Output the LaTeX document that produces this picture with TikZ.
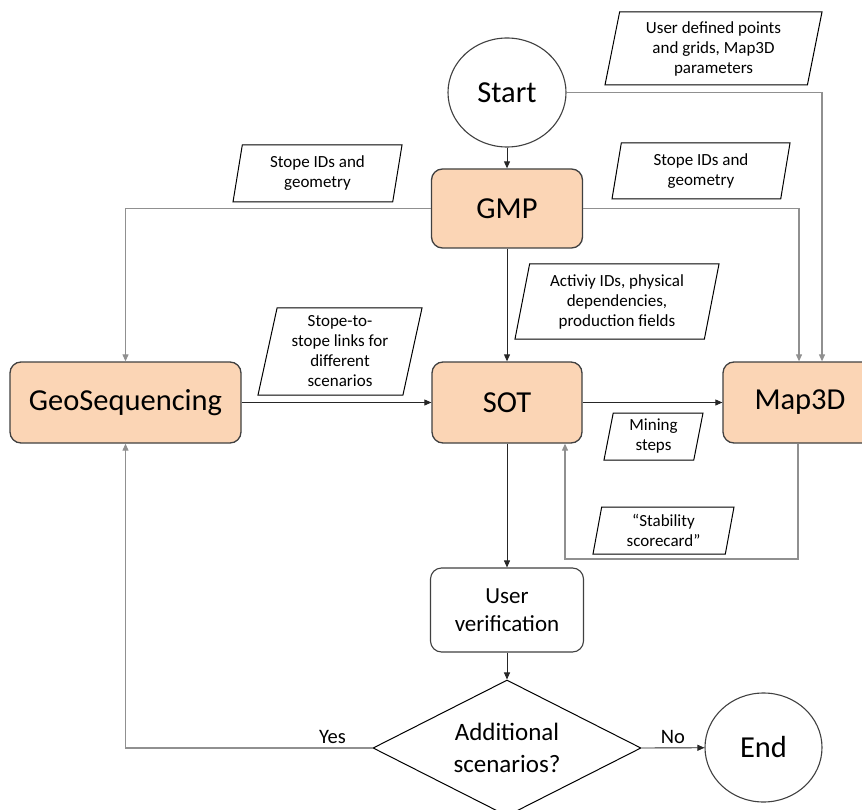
\documentclass[tikz,border=0pt]{standalone}
\usepackage{fontspec}
\setmainfont{Carlito}
\usetikzlibrary{arrows.meta,shapes.geometric}
\usepackage{xcolor}
\definecolor{peach}{HTML}{FBD5B5}
\definecolor{boxline}{HTML}{404040}
\definecolor{flowgrey}{HTML}{909090}

\begin{document}
\begin{tikzpicture}[x=1pt,y=-1pt]
	 \tikzstyle{process}=[rectangle,rounded corners=11pt,draw=boxline,line width=1.3pt,fill=peach,inner sep=0pt,font=\fontsize{30.5}{36}\selectfont]
	 \tikzstyle{terminal}=[ellipse,draw=boxline,line width=1.1pt,inner sep=0pt,font=\fontsize{30.5}{36}\selectfont]
	 \tikzstyle{data}=[trapezium,trapezium left angle=75,trapezium right angle=105,trapezium stretches body,draw=black,line width=1pt,inner sep=0pt,align=center,font=\fontsize{17}{20}\selectfont]
	 \tikzstyle{edge}=[draw,line width=0.9pt,black!85,-{Triangle[length=7pt,width=6pt]}]
	 \tikzstyle{grey edge}=[draw,line width=1.1pt,flowgrey,-{Triangle[length=7pt,width=6pt]}]
	 \tikzstyle{answer}=[black,font=\fontsize{20.5}{24}\selectfont]

	\useasboundingbox (0,0) rectangle (862,810);
	\clip (0,0) rectangle (862,810);

	\node[terminal,minimum width=118pt,minimum height=109pt] (start) at (507,92.5) {Start};
	\node[process,minimum width=151pt,minimum height=79pt] (gmp) at (507,208.5) {GMP};
	\node[process,minimum width=231pt,minimum height=81pt] (geo) at (125.5,402.5) {GeoSequencing};
	\node[process,minimum width=150pt,minimum height=81pt] (sot) at (507,402.5) {SOT};
	\node[process,minimum width=154pt,minimum height=81pt] (map) at (800,402.5) {Map3D};
	\node[process,fill=white,line width=1.1pt,minimum width=153pt,minimum height=84pt,align=center,font=\fontsize{23}{28}\selectfont] (ver) at (507,610) {User\\verification};
	\node[diamond,draw=black,line width=1pt,minimum width=268pt,minimum height=136pt,inner sep=0pt,aspect=2,align=center,font=\fontsize{25}{32}\selectfont] (dec) at (507,748) {Additional\\scenarios?};
	\node[terminal,minimum width=117pt,minimum height=109pt] (end) at (763.5,747.5) {End};

	\node[data,minimum width=217pt,minimum height=73pt] (in1) at (713.5,48.5) {User defined points\\and grids, Map3D\\parameters};
	\node[data,minimum width=169pt,minimum height=57pt] (in2) at (317.5,173.5) {Stope IDs and\\geometry};
	\node[data,minimum width=178pt,minimum height=56pt] (in3) at (701,171) {Stope IDs and\\geometry};
	\node[data,minimum width=204pt,minimum height=75pt] (in4) at (617,301.5) {Activiy IDs, physical\\dependencies,\\production fields};
	\node[data,minimum width=164pt,minimum height=87pt] (in5) at (340,351.5) {Stope-to-\\stope links for\\different\\scenarios};
	\node[data,minimum width=99pt,minimum height=47pt] (in6) at (653.5,436.5) {Mining\\steps};
	\node[data,minimum width=141pt,minimum height=47pt] (in7) at (663.5,530.5) {``Stability\\scorecard''};

	\coordinate (loop) at (565,559);

	\draw[grey edge] (start.east) -| ([xshift=22pt]map.north);
	\draw[edge] (start) -- (gmp);
	\draw[grey edge] (gmp.west) -| (geo.north);
	\draw[grey edge] (gmp.east) -| ([xshift=-1pt]map.north);
	\draw[edge] (gmp) -- (sot);
	\draw[edge] (geo) -- (sot);
	\draw[edge] (sot) -- (map);
	\draw[grey edge] ([xshift=-2pt]map.south) |- (loop) -- (loop |- sot.south);
	\draw[edge] (sot) -- (ver);
	\draw[edge] (ver) -- (dec);
	\draw[grey edge] (dec.west) -| node[pos=0.081,above,answer] {Yes} (geo.south);
	\draw[edge] (dec.east) -- node[above,answer] {No} (end);
 \end{tikzpicture}
\end{document}
